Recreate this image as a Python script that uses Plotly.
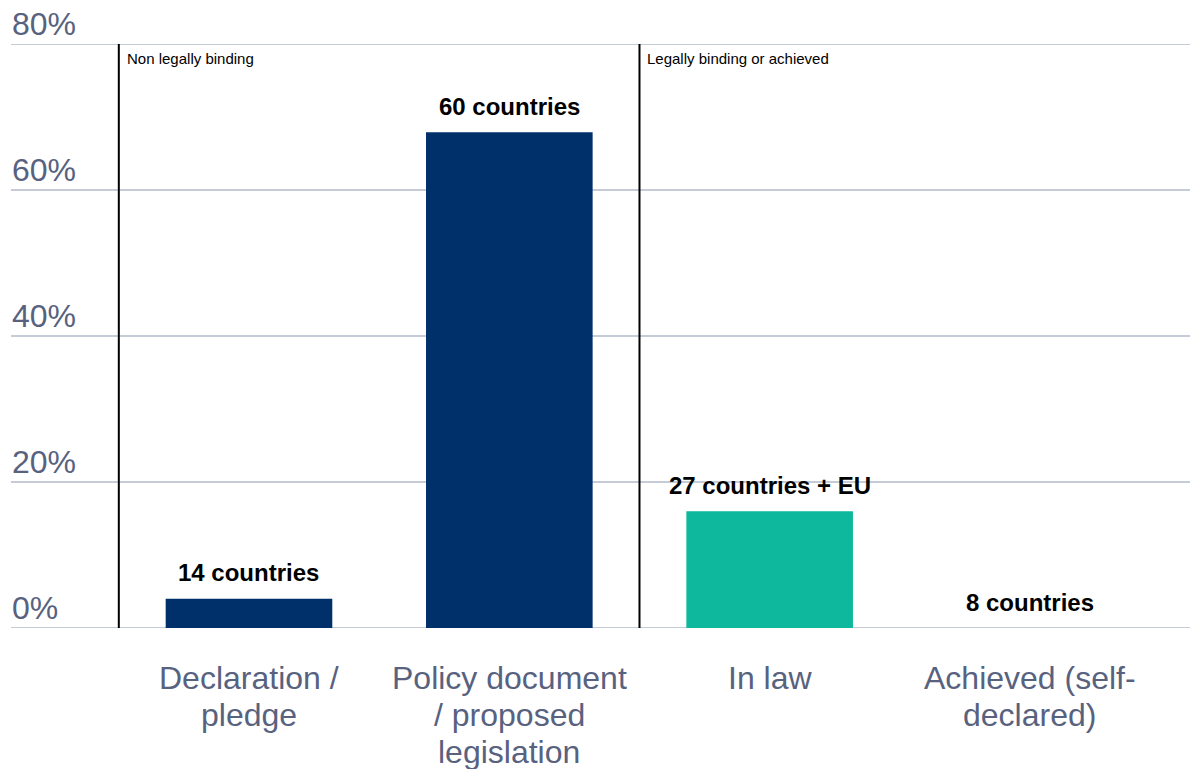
import plotly.graph_objects as go

categories = ["Declaration /<br>pledge", "Policy document<br>/ proposed<br>legislation", "In law", "Achieved (self-<br>declared)"]
values = [4.0, 67.9, 16.0, 0.0]
bar_labels = ["14 countries", "60 countries", "27 countries + EU", "8 countries"]
bar_colors = ["#00306a", "#00306a", "#0db89c", "#0db89c"]
y_ticks = [0, 20, 40, 60, 80]
y_tick_labels = ["0%", "20%", "40%", "60%", "80%"]
section_labels = ["Non legally binding", "Legally binding or achieved"]
section_x = [-0.5, 1.5]

FONT = "Liberation Sans, Arial, Helvetica, sans-serif"
GRAY = "#58627f"
# page body has an 8px margin, so the figure is sized to fill the rest of the window
W, H = 1190, 761

xpos = list(range(len(categories)))

fig = go.Figure()

# gridlines + y tick labels
for yt, lab in zip(y_ticks, y_tick_labels):
    fig.add_shape(type="line", xref="paper", yref="y", x0=3 / W, x1=1, y0=yt, y1=yt,
                  line=dict(color="#c5ccd8", width=2), layer="below")
    fig.add_annotation(xref="paper", yref="y", x=3 / W, y=yt, text=lab, showarrow=False,
                       xanchor="left", yanchor="bottom", yshift=1, borderpad=0,
                       font=dict(family=FONT, size=32, color=GRAY))

fig.add_trace(go.Bar(x=xpos, y=values, marker=dict(color=bar_colors, line=dict(width=0)),
                     width=0.64, showlegend=False, hoverinfo="skip", cliponaxis=False))

for xi, v, lab in zip(xpos, values, bar_labels):
    fig.add_annotation(x=xi, y=v, text="<b>" + lab + "</b>", showarrow=False, yanchor="middle", yshift=26,
                       font=dict(family=FONT, size=24, color="#000000"))

# category labels, one annotation per line for tight line spacing
for xi, cat in zip(xpos, categories):
    for li, line in enumerate(cat.split("<br>")):
        fig.add_annotation(x=xi, y=0, text=line, showarrow=False, yanchor="middle",
                           yshift=-50 - 37 * li,
                           font=dict(family=FONT, size=32, color=GRAY))

for sx, lab in zip(section_x, section_labels):
    fig.add_shape(type="line", x0=sx, x1=sx, y0=0, y1=80, xref="x", yref="y",
                  line=dict(color="#000000", width=2))
    fig.add_annotation(x=sx, y=80, text=lab, showarrow=False, xanchor="left", yanchor="top",
                       xshift=6, yshift=-4,
                       font=dict(family=FONT, size=15, color="#000000"))

fig.update_layout(
    width=W, height=H,
    margin=dict(l=0, r=0, t=36, b=141, autoexpand=False),
    plot_bgcolor="white", paper_bgcolor="white",
    xaxis=dict(range=[-0.9257, 3.6454], showticklabels=False, showgrid=False, zeroline=False,
               showline=False, automargin=False, fixedrange=True),
    yaxis=dict(range=[0, 80], showticklabels=False, showgrid=False, zeroline=False,
               showline=False, automargin=False, fixedrange=True),
)

fig.write_html("out.html")
